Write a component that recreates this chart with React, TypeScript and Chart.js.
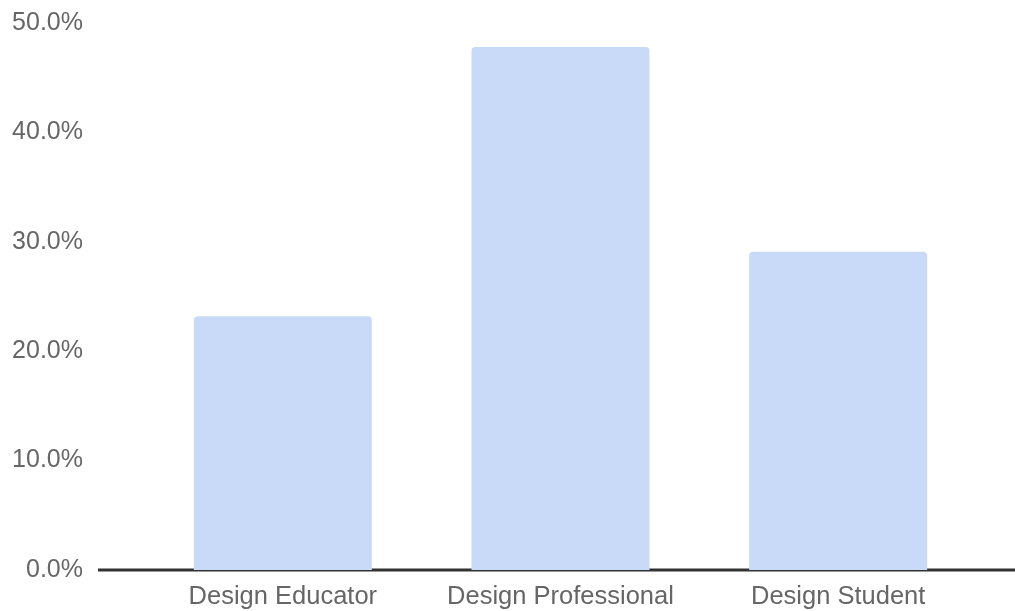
import React, { useEffect, useRef } from "react";
import { Chart, registerables } from "chart.js";

Chart.register(...registerables);

const categories = ["Design Educator", "Design Professional", "Design Student"];
const values = [23.2, 47.8, 29.1];
const yTicks = [0, 10, 20, 30, 40, 50];

const baselinePlugin = {
  id: "baseline",
  beforeDatasetsDraw(chart: any) {
    const { ctx, scales, width } = chart;
    const y = scales.y.getPixelForValue(0);
    ctx.save();
    ctx.strokeStyle = "#333333";
    ctx.lineWidth = 3;
    ctx.beginPath();
    ctx.moveTo(98, y);
    ctx.lineTo(width, y);
    ctx.stroke();
    ctx.restore();
  },
};

export default function App() {
  const ref = useRef<HTMLCanvasElement>(null);
  useEffect(() => {
    document.body.style.margin = "0";
    const chart = new Chart(ref.current!, {
      type: "bar",
      data: {
        labels: categories,
        datasets: [
          {
            data: values,
            backgroundColor: "#c9daf8",
            borderRadius: 4,
            borderSkipped: "start",
            barPercentage: 0.641,
            categoryPercentage: 1,
          },
        ],
      },
      options: {
        responsive: false,
        animation: false,
        devicePixelRatio: 1,
        layout: { padding: { top: 23, right: 38, bottom: 0, left: 0 } },
        plugins: { legend: { display: false }, tooltip: { enabled: false } },
        scales: {
          x: {
            grid: { display: false, drawTicks: false },
            border: { display: false },
            ticks: {
              color: "#666666",
              font: { family: "'Liberation Sans', Arial, sans-serif", size: 25.5 },
              padding: 12,
              maxRotation: 0,
            },
            afterFit(axis: any) {
              axis.height = 41;
            },
          },
          y: {
            min: 0,
            max: 50,
            afterBuildTicks(axis: any) {
              axis.ticks = yTicks.map((v) => ({ value: v }));
            },
            grid: { display: false, drawTicks: false },
            border: { display: false },
            ticks: {
              color: "#666666",
              font: { family: "'Liberation Sans', Arial, sans-serif", size: 25 },
              padding: 61,
              callback: (v: any) => Number(v).toFixed(1) + "%",
            },
            afterFit(axis: any) {
              axis.width = 144;
              axis.paddingTop = 10;
              axis.paddingBottom = 10;
            },
          },
        },
      },
      plugins: [baselinePlugin],
    });
    return () => chart.destroy();
  }, []);
  return (
    <div style={{ position: "absolute", left: 0, top: 0, width: 1015, height: 611 }}>
      <canvas ref={ref} width={1015} height={611} />
    </div>
  );
}
